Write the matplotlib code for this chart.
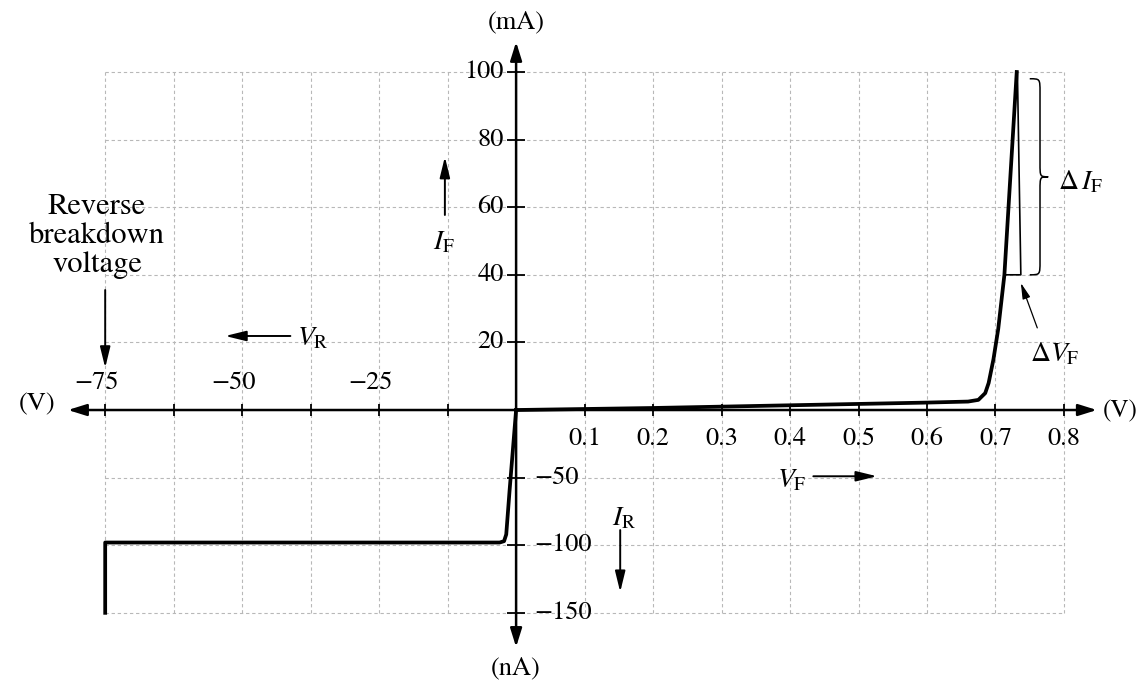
import numpy as np
import matplotlib
matplotlib.use("Agg")
import matplotlib.pyplot as plt
from matplotlib.path import Path
from matplotlib.patches import PathPatch, ArrowStyle

plt.rcParams['font.family'] = ['STIXGeneral', 'DejaVu Serif']
plt.rcParams['mathtext.fontset'] = 'stix'

# forward characteristic: volts / mA
v_fwd = [0, 0.1, 0.2, 0.3, 0.4, 0.5, 0.6, 0.66, 0.675, 0.685, 0.69, 0.697, 0.704, 0.713, 0.731]
i_fwd = [0, 0.3, 0.6, 1.0, 1.4, 1.8, 2.2, 2.5, 3.0, 5.0, 8.0, 15.0, 24.0, 40.0, 100.0]

# reverse characteristic: volts / nA
v_rev = [0, -1.2, -1.8, -2.2, -3.0, -75, -75]
i_rev = [0, -60, -92, -97, -98, -98, -150]

x_ticks_neg = [-75, -62.5, -50, -37.5, -25, -12.5]
x_ticks_pos = [0.1, 0.2, 0.3, 0.4, 0.5, 0.6, 0.7, 0.8]
x_labels_neg = [-75, -50, -25]
y_ticks_pos = [20, 40, 60, 80, 100]
y_ticks_neg = [-50, -100, -150]

# delta markers on the steep part
dv_x = [0.713, 0.737]
di_top = 100
di_bot = 40


# left of zero the axes run in volts/nA with a different step than on the right
def x_fwd_scale(v):
    v = np.asarray(v, float)
    return np.where(v < 0, v / 12.5, v / 0.1)


def x_inv_scale(u):
    u = np.asarray(u, float)
    return np.where(u < 0, u * 12.5, u * 0.1)


def y_fwd_scale(i):
    i = np.asarray(i, float)
    return np.where(i < 0, i / 50.0, i / 20.0)


def y_inv_scale(u):
    u = np.asarray(u, float)
    return np.where(u < 0, u * 50.0, u * 20.0)


def brace(ax, x0, xm, xt, ytop, ybot, h=4.0):
    ymid = (ytop + ybot) / 2
    verts = [(x0, ytop),
             (xm, ytop), (xm, ytop), (xm, ytop - h),
             (xm, ymid + h),
             (xm, ymid), (xm, ymid), (xt, ymid),
             (xm, ymid), (xm, ymid), (xm, ymid - h),
             (xm, ybot + h),
             (xm, ybot), (xm, ybot), (x0, ybot)]
    codes = [Path.MOVETO] + [Path.CURVE4] * 3 + [Path.LINETO] + [Path.CURVE4] * 6 \
        + [Path.LINETO] + [Path.CURVE4] * 3
    ax.add_patch(PathPatch(Path(verts, codes), fill=False, lw=1.1, color='k'))


fig = plt.figure(figsize=(11.4, 6.83), dpi=100)
ax = fig.add_axes([0, 0, 1, 1])
ax.set_xscale('function', functions=(x_fwd_scale, x_inv_scale))
ax.set_yscale('function', functions=(y_fwd_scale, y_inv_scale))
ax.set_xlim(-94.2, 0.911)
ax.set_ylim(-201.9, 121.3)
ax.axis('off')

grid_kw = dict(colors='#b8b8b8', linestyles=(0, (3, 2.5)), lw=0.8, zorder=1)
ax.vlines(x_ticks_neg + x_ticks_pos, -150, 100, **grid_kw)
ax.hlines(y_ticks_pos + y_ticks_neg, -75, 0.8, **grid_kw)

# axes with arrow heads
axis_style = ArrowStyle('<|-|>', head_length=0.8, head_width=0.25)
ax.annotate('', xy=(-81.8, 0), xytext=(0.848, 0),
            arrowprops=dict(arrowstyle=axis_style, lw=1.8, color='k',
                            mutation_scale=14, shrinkA=0, shrinkB=0), zorder=3)
ax.annotate('', xy=(0, 108.9), xytext=(0, -175.3),
            arrowprops=dict(arrowstyle=axis_style, lw=1.8, color='k',
                            mutation_scale=14, shrinkA=0, shrinkB=0), zorder=3)

ax.plot(x_ticks_neg + x_ticks_pos, [0] * 14, ls='none', marker='|', ms=9,
        mew=1.3, color='k', zorder=3)
ax.plot([0] * 8, y_ticks_pos + y_ticks_neg, ls='none', marker='_', ms=13,
        mew=1.3, color='k', zorder=3)

# curves
ax.plot(v_fwd, i_fwd, color='k', lw=2.7, solid_joinstyle='round', zorder=4)
ax.plot(v_rev, i_rev, color='k', lw=2.7, solid_joinstyle='round', zorder=4)

# delta V / delta I construction
ax.plot([dv_x[0], dv_x[1], 0.732], [di_bot, di_bot, di_top], color='k', lw=1.2, zorder=4)
brace(ax, 0.750, 0.765, 0.777, 98, 40)

tick_fs = 19
for v in x_labels_neg:
    ax.text(v - 1.6, 8.0, '\u2212' + str(abs(v)), fontsize=tick_fs, ha='center', va='center')
for v in x_ticks_pos:
    ax.text(v, -21.4, f'{v:.1f}', fontsize=tick_fs, ha='center', va='center')
for i in y_ticks_pos:
    ax.text(-2.3, i, str(i), fontsize=tick_fs, ha='right', va='center')
for i in y_ticks_neg:
    ax.text(0.026, i, '\u2212' + str(abs(i)), fontsize=tick_fs, ha='left', va='center')

ax.text(0, 114.8, '(mA)', fontsize=tick_fs, ha='center', va='center')
ax.text(0, -190.8, '(nA)', fontsize=tick_fs, ha='center', va='center')
ax.text(-87.4, 1.8, '(V)', fontsize=tick_fs, ha='center', va='center')
ax.text(0.908, -1.0, '(V)', fontsize=18, ha='right', va='center')

ax.text(-76.5, 51.5, 'Reverse\nbreakdown\nvoltage', fontsize=22, ha='center',
        va='center', linespacing=1.05)

small_arrow = dict(arrowstyle=ArrowStyle('-|>', head_length=0.9, head_width=0.22),
                   lw=1.4, color='k', mutation_scale=14, shrinkA=0, shrinkB=0)
ax.annotate('', xy=(-75, 12.5), xytext=(-75, 35.5), arrowprops=small_arrow)
ax.annotate('', xy=(-53.1, 21.9), xytext=(-41.2, 21.9), arrowprops=small_arrow)
ax.annotate('', xy=(-13.0, 74.9), xytext=(-13.0, 57.7), arrowprops=small_arrow)
ax.annotate('', xy=(0.527, -49.0), xytext=(0.434, -49.0), arrowprops=small_arrow)
ax.annotate('', xy=(0.152, -134.6), xytext=(0.152, -88.8), arrowprops=small_arrow)
ax.annotate('', xy=(0.737, 37.6), xytext=(0.761, 24.3),
            arrowprops=dict(arrowstyle=ArrowStyle('-|>', head_length=0.8, head_width=0.2),
                            lw=0.9, color='k', mutation_scale=12, shrinkA=0, shrinkB=0))

lab_fs = 20
ax.text(-40.0, 21.0, r'$V_\mathrm{R}$', fontsize=lab_fs, ha='left', va='center')
ax.text(-13.1, 49.5, r'$I_\mathrm{F}$', fontsize=lab_fs, ha='center', va='center')
ax.text(0.381, -52.0, r'$V_\mathrm{F}$', fontsize=lab_fs, ha='left', va='center')
ax.text(0.158, -80.0, r'$I_\mathrm{R}$', fontsize=lab_fs, ha='center', va='center')
ax.text(0.791, 67.5, r'$\Delta\, I_\mathrm{F}$', fontsize=lab_fs, ha='left', va='center')
ax.text(0.750, 16.5, r'$\Delta V_\mathrm{F}$', fontsize=lab_fs, ha='left', va='center')

fig.savefig('out.png', dpi=100)
